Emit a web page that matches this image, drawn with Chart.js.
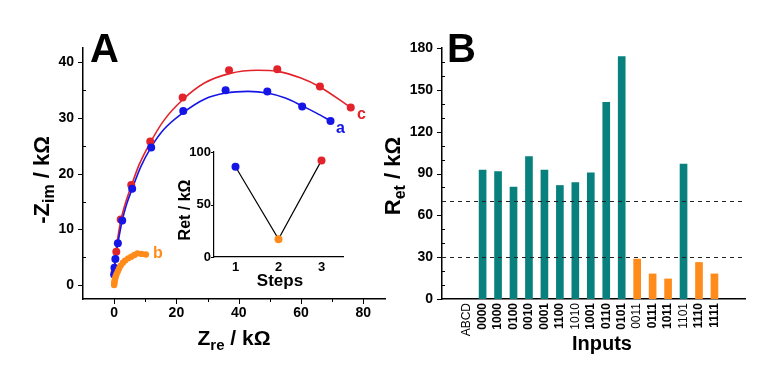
<!DOCTYPE html>
<html>
<head>
<meta charset="utf-8">
<script src="https://cdn.jsdelivr.net/npm/chart.js@4"></script>
<style>
  body { margin: 0; background: #fff; }
  #wrap { position: relative; width: 780px; height: 380px; overflow: hidden; }
  canvas { position: absolute; }
</style>
</head>
<body>
<div id="wrap">
  <canvas id="chartA" width="390" height="380" style="left:0;top:0"></canvas>
  <canvas id="chartB" width="410" height="380" style="left:370px;top:0"></canvas>
  <canvas id="chartInset" width="200" height="160" style="left:150px;top:140px"></canvas>
</div>
<script>
// Panel A: Nyquist plots (kOhm)
const zreA = [0, 0.1, 0.4, 1.2, 2.6, 5.8, 11.9, 22.2, 35.8, 49.2, 60.4, 69.5];
const zimA = [1.9, 3.1, 4.7, 7.5, 11.6, 17.3, 24.7, 31.3, 35.0, 34.8, 32.1, 29.5];
const zreB = [0, 0.05, 0.1, 0.2, 0.35, 0.5, 0.8, 1.2, 1.6, 2.1, 2.8, 3.5, 4.5, 5.5, 6.5, 7.5, 8.8, 10.2];
const zimB = [0, 0.3, 0.6, 0.9, 1.2, 1.6, 2.0, 2.5, 3.0, 3.5, 4.0, 4.4, 4.8, 5.1, 5.4, 5.7, 5.6, 5.5];
const zreC = [0.2, 0.7, 2.1, 5.5, 11.6, 22.0, 36.9, 52.4, 66.1, 76.0];
const zimC = [2.5, 6.0, 11.8, 18.0, 25.8, 33.7, 38.6, 38.8, 35.7, 31.9];

// fitted curves
const fitAx = [0, 0.1, 0.4, 1.2, 2.6, 4, 5.8, 8.5, 11.9, 16, 22.2, 29, 35.8, 43, 49.2, 55, 60.4, 65, 69.5];
const fitAy = [0, 3.1, 4.7, 7.5, 11.6, 14.5, 17.3, 21.2, 24.8, 28.0, 31.0, 33.4, 34.5, 34.8, 34.5, 33.6, 32.2, 30.9, 29.5];
const fitCx = [0, 0.3, 1, 2.1, 3.5, 5.5, 8, 11.6, 16, 22, 29, 37, 46, 52.4, 60, 66.1, 76];
const fitCy = [0, 4, 7.8, 11.5, 14.5, 17.8, 21.6, 25.6, 29.6, 33.3, 36.3, 38.0, 38.6, 38.4, 37.2, 35.6, 31.9];

// Inset: Ret vs steps
const steps = [1, 2, 3];
const retSteps = [86, 17, 92];

// Panel B
const inputs = ['ABCD', '0000', '1000', '0100', '0010', '0001', '1100', '1010', '1001', '0110', '0101',
  '0011', '0111', '1011', '1101', '1110', '1111'];
const boldInputs = [false, true, true, true, true, true, true, false, true, true, true,
  false, true, true, false, true, true];
const retHigh = [null, 92.4, 91.4, 80.2, 102.2, 92.4, 81.4, 83.5, 90.5, 141.1, 173.8,
  null, null, null, 96.7, null, null];
const retLow = [null, null, null, null, null, null, null, null, null, null, null,
  28.6, 18.0, 14.4, null, 26.2, 18.0];
const thresholds = [70, 30];

const blue = '#1515e6', red = '#e3232b', orange = '#ff8c1a', teal = '#08807d';
const FONT = "'Liberation Sans', Arial, sans-serif";
Chart.defaults.font.family = FONT;
Chart.defaults.color = '#000';

const toXY = (xs, ys) => xs.map((x, i) => ({ x: x, y: ys[i] })).filter(p => p.y !== null);

// tick marks, dashed levels and free texts drawn on top of the chart
const decor = {
  id: 'decor',
  afterDraw(chart, args, opts) {
    const ctx = chart.ctx;
    ctx.save();
    ctx.strokeStyle = '#000';
    ctx.lineWidth = 1;
    (opts.marks || []).forEach(m => {
      const s = chart.scales[m.axis];
      m.values.forEach(v => {
        const p = Math.round(s.getPixelForValue(v)) + 0.5;
        ctx.beginPath();
        if (m.axis === 'y') {
          const x0 = s.right;
          ctx.moveTo(x0, p);
          ctx.lineTo(m.out ? x0 - m.len : x0 + m.len, p);
        } else {
          const y0 = s.top;
          ctx.moveTo(p, y0);
          ctx.lineTo(p, m.out ? y0 + m.len : y0 - m.len);
        }
        ctx.stroke();
      });
    });
    (opts.dashed || []).forEach(v => {
      const y = Math.round(chart.scales.y.getPixelForValue(v)) + 0.5;
      ctx.setLineDash([4, 4]);
      ctx.strokeStyle = '#222';
      ctx.beginPath();
      ctx.moveTo(chart.chartArea.left, y);
      ctx.lineTo(chart.chartArea.right - 2, y);
      ctx.stroke();
      ctx.setLineDash([]);
    });
    (opts.texts || []).forEach(t => {
      ctx.save();
      ctx.translate(t.x, t.y);
      if (t.rotate) ctx.rotate(-Math.PI / 2);
      ctx.fillStyle = t.color || '#000';
      ctx.textBaseline = 'alphabetic';
      let total = 0;
      t.parts.forEach(p => {
        ctx.font = 'bold ' + p[1] + 'px ' + FONT;
        total += ctx.measureText(p[0]).width;
      });
      let cx = t.align === 'left' ? 0 : -total / 2;
      t.parts.forEach(p => {
        ctx.font = 'bold ' + p[1] + 'px ' + FONT;
        ctx.fillText(p[0], cx, p[2] || 0);
        cx += ctx.measureText(p[0]).width;
      });
      ctx.restore();
    });
    ctx.restore();
  }
};

const tickFont = { size: 14, weight: 'bold' };
const axisBorder = { color: '#000', width: 1.5 };

// Panel A
new Chart(document.getElementById('chartA'), {
  type: 'scatter',
  data: {
    datasets: [
      { data: toXY(zreB, zimB), backgroundColor: orange, borderColor: orange, pointRadius: 3.2, pointBorderWidth: 0 },
      { data: toXY(zreA, zimA), backgroundColor: blue, borderColor: blue, pointRadius: 4, pointBorderWidth: 0 },
      { data: toXY(zreC, zimC), backgroundColor: red, borderColor: red, pointRadius: 4, pointBorderWidth: 0 },
      { type: 'line', data: toXY(fitAx, fitAy), borderColor: blue, borderWidth: 1.6, pointRadius: 0, cubicInterpolationMode: 'monotone', fill: false },
      { type: 'line', data: toXY(fitCx, fitCy), borderColor: red, borderWidth: 1.6, pointRadius: 0, cubicInterpolationMode: 'monotone', fill: false }
    ]
  },
  options: {
    responsive: false,
    animation: false,
    layout: { padding: { top: 48, right: 5, left: 0, bottom: 0 } },
    scales: {
      x: {
        type: 'linear', min: -10, max: 87,
        afterBuildTicks: s => { s.ticks = [0, 20, 40, 60, 80].map(v => ({ value: v })); },
        afterFit: s => { s.height = 81; },
        grid: { display: false, drawTicks: false },
        border: axisBorder,
        ticks: { font: tickFont, padding: 6, maxRotation: 0 }
      },
      y: {
        type: 'linear', min: -2.5, max: 42.6,
        afterBuildTicks: s => { s.ticks = [0, 10, 20, 30, 40].map(v => ({ value: v })); },
        afterFit: s => { s.width = 83; },
        grid: { display: false, drawTicks: false },
        border: axisBorder,
        ticks: { font: tickFont, padding: 9 }
      }
    },
    plugins: {
      legend: { display: false },
      tooltip: { enabled: false },
      decor: {
        marks: [
          { axis: 'y', values: [0, 10, 20, 30, 40], len: 5, out: true },
          { axis: 'y', values: [5, 15, 25, 35], len: 3, out: false },
          { axis: 'x', values: [0, 20, 40, 60, 80], len: 5, out: true },
          { axis: 'x', values: [10, 30, 50, 70], len: 3, out: true }
        ],
        texts: [
          { x: 90, y: 62, parts: [['A', 40]], align: 'left' },
          { x: 49, y: 180, rotate: true, parts: [['-Z', 22], ['im', 16, 5], [' / k\u03a9', 22]] },
          { x: 234, y: 345, parts: [['Z', 21], ['re', 15, 5], [' / k\u03a9', 21]] },
          { x: 336, y: 133, parts: [['a', 16]], align: 'left', color: blue },
          { x: 357, y: 119, parts: [['c', 16]], align: 'left', color: red },
          { x: 153, y: 258, parts: [['b', 16]], align: 'left', color: orange }
        ]
      }
    }
  },
  plugins: [decor]
});

// Inset
new Chart(document.getElementById('chartInset'), {
  type: 'line',
  data: {
    datasets: [{
      data: toXY(steps, retSteps),
      borderColor: '#000', borderWidth: 1.2,
      pointBackgroundColor: [blue, orange, red], pointBorderWidth: 0, pointRadius: 4,
      tension: 0, fill: false
    }]
  },
  options: {
    responsive: false,
    animation: false,
    layout: { padding: { top: 12, right: 7, left: 0, bottom: 0 } },
    scales: {
      x: {
        type: 'linear', min: 0.5, max: 3.5,
        afterBuildTicks: s => { s.ticks = steps.map(v => ({ value: v })); },
        afterFit: s => { s.height = 43; },
        grid: { display: false, drawTicks: false },
        border: { color: '#000', width: 1.2 },
        ticks: { font: { size: 13, weight: 'bold' }, padding: 3, maxRotation: 0 }
      },
      y: {
        type: 'linear', min: 0, max: 100,
        afterBuildTicks: s => { s.ticks = [0, 50, 100].map(v => ({ value: v })); },
        afterFit: s => { s.width = 64; },
        grid: { display: false, drawTicks: false },
        border: { color: '#000', width: 1.2 },
        ticks: { font: { size: 13, weight: 'bold' }, padding: 3 }
      }
    },
    plugins: {
      legend: { display: false },
      tooltip: { enabled: false },
      decor: {
        marks: [
          { axis: 'y', values: [0, 50, 100], len: 3, out: true }
        ],
        texts: [
          { x: 130, y: 146, parts: [['Steps', 17]] },
          { x: 40, y: 70, rotate: true, parts: [['Ret / k\u03a9', 16]] }
        ]
      }
    }
  },
  plugins: [decor]
});

// Panel B
new Chart(document.getElementById('chartB'), {
  type: 'bar',
  data: {
    datasets: [
      { data: toXY(inputs.map((_, i) => i), retHigh), backgroundColor: teal, barThickness: 7 },
      { data: toXY(inputs.map((_, i) => i), retLow), backgroundColor: orange, barThickness: 7 }
    ]
  },
  options: {
    responsive: false,
    animation: false,
    layout: { padding: { top: 48, right: 35, left: 0, bottom: 0 } },
    scales: {
      x: {
        type: 'linear', min: -1.05, max: 17.4, stacked: true,
        afterBuildTicks: s => { s.ticks = inputs.map((_, i) => ({ value: i })); },
        afterFit: s => { s.height = 81; },
        grid: { display: false, drawTicks: false },
        border: axisBorder,
        ticks: {
          padding: 4, minRotation: 90, maxRotation: 90, autoSkip: false,
          callback: v => inputs[v],
          font: c => ({ size: 12, weight: boldInputs[c.index] ? 'bold' : 'normal' })
        }
      },
      y: {
        type: 'linear', min: 0, max: 180, stacked: true,
        afterBuildTicks: s => { s.ticks = [0, 30, 60, 90, 120, 150, 180].map(v => ({ value: v })); },
        afterFit: s => { s.width = 72; },
        grid: { display: false, drawTicks: false },
        border: axisBorder,
        ticks: { font: tickFont, padding: 9 }
      }
    },
    plugins: {
      legend: { display: false },
      tooltip: { enabled: false },
      decor: {
        marks: [
          { axis: 'y', values: [0, 30, 60, 90, 120, 150, 180], len: 5, out: true },
          { axis: 'y', values: [10, 20, 40, 50, 70, 80, 100, 110, 130, 140, 160, 170], len: 3, out: false }
        ],
        dashed: thresholds,
        texts: [
          { x: 77, y: 62, parts: [['B', 40]], align: 'left' },
          { x: 30, y: 176, rotate: true, parts: [['R', 22], ['et', 16, 5], [' / k\u03a9', 22]] },
          { x: 232, y: 350, parts: [['Inputs', 20]] }
        ]
      }
    }
  },
  plugins: [decor]
});
</script>
</body>
</html>
